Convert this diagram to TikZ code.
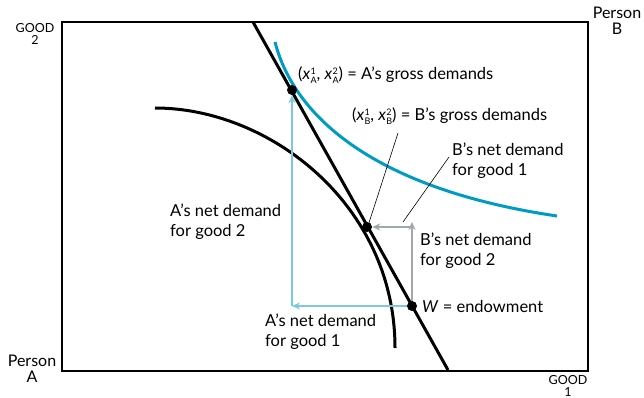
\documentclass[tikz,border=0pt]{standalone}
\usepackage{fontspec}
\setmainfont{Lato}
\usetikzlibrary{arrows.meta}
\definecolor{icblue}{RGB}{0,155,195}
\definecolor{arblue}{RGB}{125,200,222}
\definecolor{argray}{RGB}{160,168,172}
\newcommand{\xab}[2]{\textit{x}\hspace{0.3pt}\raisebox{-0.55ex}{\fontsize{9}{9}\selectfont\shortstack[l]{#2\\#1}}}
\tikzset{
  dot/.style={circle,fill=black,inner sep=0pt,minimum size=10pt},
  lbl/.style={anchor=west,align=left,font=\fontsize{16.5}{20}\selectfont,inner sep=0pt},
  axlbl/.style={align=center,font=\fontsize{12.5}{12}\selectfont,inner sep=0pt},
  perslbl/.style={align=center,font=\fontsize{16}{16}\selectfont,inner sep=0pt},
  blar/.style={draw=arblue,line width=1.8pt,-{Stealth[length=8pt,width=7pt]}},
  grar/.style={draw=argray,line width=1.8pt,-{Stealth[length=8pt,width=7pt]}},
  leader/.style={draw=black,line width=0.6pt}
}
\begin{document}
\begin{tikzpicture}[x=1pt,y=-1pt]
\useasboundingbox (0,0) rectangle (644,398);
% box
\draw[line width=2pt] (62,22) rectangle (588,371);
% indifference curves
\draw[icblue,line width=3pt] (275,42) .. controls (295,120) and (380,190) .. (557,216);
\draw[black,line width=3pt] (155,108) .. controls (270,108) and (395,205) .. (395,348);
% budget line
\coordinate (Btop) at (253,22);
\coordinate (Bbot) at (448,370);
\draw[line width=3pt] (Btop) -- (Bbot);
% points
\node[dot] (A) at (292,90) {};
\node[dot] (Bd) at (367,227) {};
\node[dot] (W) at (412,306) {};
\coordinate (Acorner) at (292,306);
\coordinate (Bcorner) at (412,227);
% arrows
\draw[blar] (W) -- (Acorner);
\draw[blar] (Acorner) -- (A);
\draw[grar] (W) -- ([yshift=5pt]Bcorner);
\draw[grar] ([xshift=-0.9pt]Bcorner) -- (Bd);
% labels
\node[lbl] (la) at (298,75) {(\xab{A}{1}, \xab{A}{2}) = A's gross demands};
\node[lbl] (lb) at (352,116) {(\xab{B}{1}, \xab{B}{2}) = B's gross demands};
\node[lbl] (lbn1) at (452,161) {B's net demand\\for good 1};
\node[lbl] (lbn2) at (420,251) {B's net demand\\for good 2};
\node[lbl] (lw) at (422,306) {\textit{W} = endowment};
\node[lbl] (lan2) at (170,222) {A's net demand\\for good 2};
\node[lbl] (lan1) at (265,332) {A's net demand\\for good 1};
% leaders
\coordinate (lbfoot) at (398,133);
\coordinate (lbn1foot) at (449,157);
\draw[leader] (lbfoot) -- ([xshift=1pt,yshift=-4pt]Bd.north);
\draw[leader] (lbn1foot) -- (403,222);
% axis labels
\node[axlbl] (g2) at (35,34) {GOOD\\2};
\node[axlbl] (g1) at (568,386) {GOOD\\1};
\node[perslbl] (pb) at (617,21) {Person\\B};
\node[perslbl] (pa) at (32,369) {Person\\A};
\end{tikzpicture}
\end{document}
